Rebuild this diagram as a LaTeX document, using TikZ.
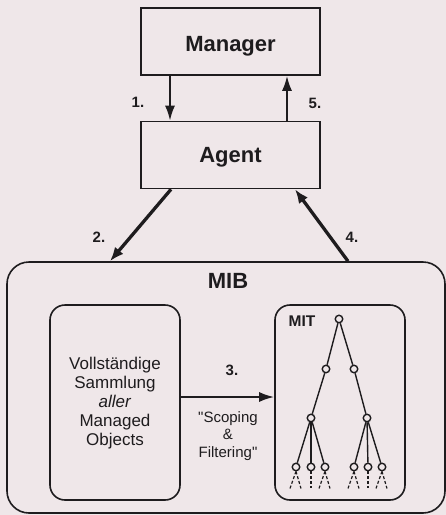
\documentclass[tikz,border=0pt]{standalone}
\usepackage{fontspec}
\setmainfont{Liberation Sans}
\usetikzlibrary{arrows.meta}
\definecolor{paper}{RGB}{239,231,233}
\definecolor{ink}{RGB}{30,28,30}
\begin{document}
\begin{tikzpicture}[x=1pt,y=-1pt,
  frame/.style={draw=ink, line width=1.6pt, inner sep=0pt},
  plainbox/.style={frame, minimum width=179pt, minimum height=67pt},
  roundbox/.style={frame, rounded corners=15pt, minimum width=130pt, minimum height=195pt},
  title/.style={text=ink, inner sep=0pt, anchor=base, font=\fontsize{22}{26}\selectfont\bfseries},
  num/.style={text=ink, inner sep=0pt, font=\fontsize{15}{18}\selectfont\bfseries},
  body/.style={text=ink, inner sep=0pt, align=center, font=\fontsize{17}{19}\selectfont},
  small/.style={text=ink, inner sep=0pt, align=center, font=\fontsize{15}{17.5}\selectfont},
  arr/.style={draw=ink, line width=2pt, -{Latex[length=15pt,width=10pt]}},
  bold arr/.style={arr, line width=3.3pt, -{Latex[length=14pt,width=11pt]}},
  tn/.style={circle, draw=ink, fill=paper, line width=1.4pt, minimum size=7.5pt, inner sep=0pt},
  edge/.style={draw=ink, line width=1.4pt},
  sub/.style={draw=ink, line width=1.2pt, dash pattern=on 3pt off 2pt}
]
% canvas
\fill[paper] (0,0) rectangle (446,515);
\useasboundingbox (0,0) rectangle (446,515);

% manager and agent
\node[plainbox] (manager) at (230.5,41.5) {};
\node[title] (managerl) at (230.5,51.5) {Manager};
\node[plainbox] (agent) at (230.5,155) {};
\node[title] (agentl) at (230.5,162) {Agent};

% MIB container
\node[frame, rounded corners=22pt, minimum width=438pt, minimum height=251pt] (mib) at (226,387.5) {};
\node[title] (mibl) at (228,288) {MIB};

% inner boxes
\node[roundbox] (coll) at (115,402.5) {};
\node[body] (colll) at (115,403) {Vollständige\\Sammlung\\\textit{aller}\\Managed\\Objects};
\node[roundbox] (mit) at (340,402.5) {};
\node[num, font=\fontsize{15.5}{18}\selectfont\bfseries] (mitl) at (302,321) {MIT};

% connector positions
\coordinate (x1) at (170,0);
\coordinate (x5) at (287,0);
\coordinate (x2a) at (171,0);
\coordinate (x2b) at (110,0);
\coordinate (x4a) at (295,0);
\coordinate (x4b) at (348,0);
\coordinate (y3) at (0,397);

\draw[arr] (manager.south -| x1) -- (agent.north -| x1);
\draw[arr] (agent.north -| x5) -- (manager.south -| x5);
\draw[bold arr] (agent.south -| x2a) -- (mib.north -| x2b);
\draw[bold arr] (mib.north -| x4b) -- (agent.south -| x4a);
\draw[arr] (coll.east |- y3) -- (mit.west |- y3);

% step numbers
\node[num] (n1) at (138,102) {1.};
\node[num] (n5) at (315,103) {5.};
\node[num] (n2) at (99,237) {2.};
\node[num] (n4) at (352,237) {4.};
\node[num] (n3) at (232,370) {3.};
\node[small] (sf) at (228,436) {\textquotedbl Scoping\\\&\\Filtering\textquotedbl};

% tree of managed objects
\node[tn] (r) at (339,319) {};
\node[tn] (a) at (326,369) {};
\node[tn] (b) at (354,369) {};
\node[tn] (c) at (311,418) {};
\node[tn] (d) at (367,418) {};
\foreach \i/\x in {1/296,2/311,3/325,4/354,5/368,6/382}
  \node[tn] (l\i) at (\x,467) {};
\draw[edge] (r) -- (a) (r) -- (b) (a) -- (c) (b) -- (d);
\foreach \i in {1,2,3} \draw[edge] (c) -- (l\i);
\foreach \i in {4,5,6} \draw[edge] (d) -- (l\i);
% dashed continuation below the leaves
\foreach \i in {1,3,4,6} {
  \draw[sub] (l\i.south) -- ++(-6,17);
  \draw[sub] (l\i.south) -- ++(5,17);
}
\foreach \i in {2,5} \draw[sub] (l\i.south) -- ++(0,17);
\end{tikzpicture}
\end{document}
